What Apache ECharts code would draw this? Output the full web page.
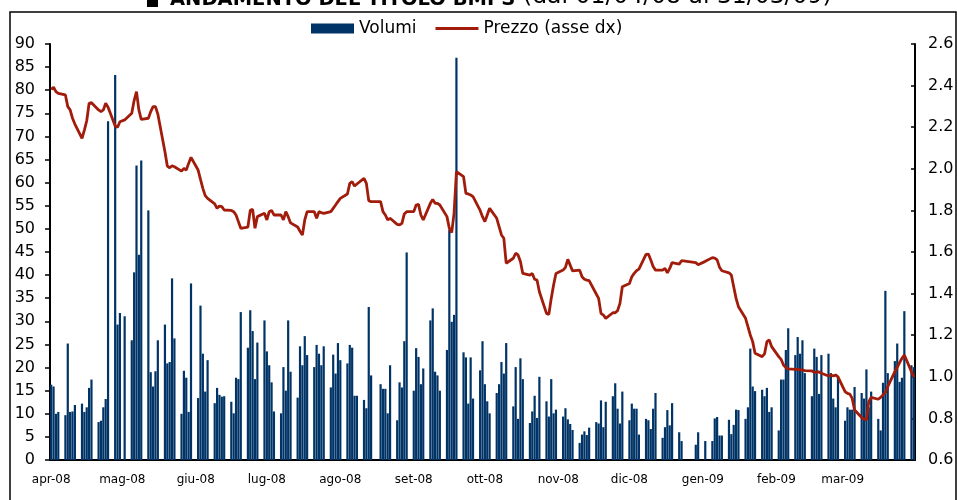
<!DOCTYPE html>
<html><head><meta charset="utf-8">
<script src="https://cdn.jsdelivr.net/npm/echarts@6/dist/echarts.min.js"></script>
<style>html,body{margin:0;padding:0;background:#fff}#c{width:957px;height:500px}</style>
</head><body><div id="c"></div>
<script>
// Month tick labels (x axis)
const monthLabels = ['apr-08','mag-08','giu-08','lug-08','ago-08','set-08','ott-08','nov-08','dic-08','gen-09','feb-09','mar-09'];

// Daily volumes, one value per weekday (Mon-Fri) of each month; null = market closed
const volApr08 = [16.3,15.9,10.0,10.4, 9.7,25.2,10.4,10.5,11.9, 12.2,10.4,11.4,15.6,17.4, 8.2,8.5,11.4,13.2,73.3, 83.3,29.3,31.8];
const volMay08 = [null,31.1, 25.9,40.6,63.7,44.4,64.8, 54.0,19.0,15.9,19.2,25.9, 29.3,20.9,21.2,39.3,26.3, 10.0,19.3,17.8,10.4,38.2];
const volJun08 = [13.4,33.4,23.0,14.8,21.6, 12.3,15.6,14.1,13.7,13.8, 12.6,10.1,17.8,17.5,32.0, 24.3,32.4,27.9,17.5,25.4, 30.2];
const volJul08 = [23.5,20.5,16.8,10.5, 10.1,20.1,15.0,30.2,19.1, 13.5,24.6,20.5,26.8,22.7, 20.1,24.9,23.0,20.5,24.6, 15.7,22.8,18.7,25.3];
const volAug08 = [21.6, 20.9,24.9,24.3,13.9,13.9, 13.0,11.2,33.1,18.3,null, 16.4,15.4,15.4,10.1,20.5, 8.6,16.8,15.7,25.7,44.9];
const volSep08 = [15.0,24.2,22.3,16.4,19.8, 30.2,32.8,19.1,18.3,15.0, 23.8,49.8,29.9,31.4,87.0, 23.3,22.2,12.2,22.2,13.3, 19.4,25.7];
const volOct08 = [16.4,12.7,10.1, 14.5,16.4,21.2,18.7,25.3, 11.6,20.1,8.9,22.0,17.5, 8.0,10.5,13.9,9.1,18.0, 12.7,9.4,17.5,10.1,10.9];
const volNov08 = [9.4,11.2,8.8,7.8,6.5, 3.7,5.5,6.2,5.4,7.0, 8.2,7.9,12.9,7.1,12.6, 13.8,16.6,11.1,7.9,14.8];
const volDec08 = [8.6,12.2,11.1,11.1,5.5, 8.9,8.6,6.7,11.1,14.5, 4.8,7.1,10.8,7.5,12.3, 6.0,4.1,null,null,null, 3.3,6.0,null];
const volJan09 = [null,4.1, 4.1,9.0,9.3,5.3,5.3, 8.7,5.6,7.6,10.9,10.8, 8.9,11.4,24.1,15.9,14.9, 15.2,13.8,15.6,10.4,11.4];
const volFeb09 = [6.4,17.4,17.4,23.8,28.5, 22.7,26.6,23.0,25.9,18.8, 13.8,24.1,22.3,14.3,22.7, 23.0,18.8,13.3,11.4,18.1];
const volMar09 = [8.5,11.4,10.9,10.9,15.8, 14.5,13.3,19.6,11.4,14.8, 8.9,6.4,16.7,36.6,18.8, 21.4,25.2,16.9,17.8,32.2, 20.5,20.1];

// Daily closing price (right axis), same weekday layout
const prcApr08 = [2.382,2.392,2.371,2.363, 2.355,2.299,2.283,2.243,2.215, 2.146,2.186,2.231,2.315,2.318, 2.283,2.275,2.283,2.315,2.296, 2.206,2.200,2.226];
const prcMay08 = [null,2.235, 2.267,2.328,2.371,2.283,2.238, 2.243,2.275,2.299,2.299,2.263, 2.082,2.013,2.005,2.015,2.010, 1.989,2.002,1.994,2.026,2.055];
const prcJun08 = [1.994,1.949,1.906,1.871,1.858, 1.831,1.810,1.821,1.818,1.802, 1.800,1.794,1.778,1.746,1.714, 1.720,1.800,1.805,1.714,1.770, 1.786];
const prcJul08 = [1.754,1.794,1.800,1.778, 1.778,1.754,1.794,1.770,1.740, 1.720,1.700,1.682,1.754,1.794, 1.794,1.762,1.794,1.789,1.786, 1.794,1.810,1.826,1.842];
const prcAug08 = [1.858, 1.879,1.930,1.938,1.917,1.927, 1.954,1.930,1.847,1.842,null, 1.842,1.794,1.778,1.754,1.762, 1.733,1.730,1.738,1.783,1.794];
const prcSep08 = [1.794,1.826,1.829,1.778,1.754, 1.834,1.853,1.834,1.834,1.826, 1.770,1.714,1.693,1.786,1.986, 1.962,1.882,1.879,1.874,1.866, 1.800,1.770];
const prcOct08 = [1.746,1.778,1.810, 1.762,1.722,1.682,1.666,1.546, 1.570,1.594,1.586,1.554,1.497, 1.489,1.497,1.469,1.465,1.409, 1.305,1.300,1.377,1.441,1.497];
const prcNov08 = [1.513,1.526,1.565,1.537,1.509, 1.513,1.481,1.469,1.465,1.462, 1.398,1.377,1.305,1.297,1.281, 1.308,1.308,1.318,1.353,1.433];
const prcDec08 = [1.449,1.481,1.497,1.510,1.518, 1.589,1.590,1.562,1.530,1.513, 1.513,1.521,1.500,1.521,1.549, 1.542,1.558,null,null,null, 1.549,1.539,null];
const prcJan09 = [null,1.555, 1.573,1.571,1.562,1.527,1.510, 1.500,1.489,1.433,1.377,1.337, 1.281,1.241,1.201,1.169,1.113, 1.097,1.110,1.169,1.177,1.145];
const prcFeb09 = [1.097,1.084,1.057,1.045,1.038, 1.036,1.036,1.033,1.033,1.030, 1.028,1.021,1.023,1.023,1.017, 1.004,1.009,1.004,1.009,1.000];
const prcMar09 = [0.929,0.920,0.917,0.896,0.840, 0.804,0.797,0.792,0.880,0.901, 0.892,0.901,0.913,0.924,0.953, 1.025,1.045,1.068,1.089,1.105, 1.025,1.000];

const volByMonth = [volApr08,volMay08,volJun08,volJul08,volAug08,volSep08,volOct08,volNov08,volDec08,volJan09,volFeb09,volMar09];
const prcByMonth = [prcApr08,prcMay08,prcJun08,prcJul08,prcAug08,prcSep08,prcOct08,prcNov08,prcDec08,prcJan09,prcFeb09,prcMar09];

// Build calendar-day table (weekends empty, as on a date axis)
const days = [], vol = [], price = [], monthOf = [];
const cursor = new Array(12).fill(0);
for (let d = 0; d < 365; d++) {
  const dt = new Date(2008, 3, 1 + d);
  const m = (dt.getFullYear() - 2008) * 12 + dt.getMonth() - 3;
  days.push(dt.getFullYear() + '-' + String(dt.getMonth() + 1).padStart(2, '0') + '-' + String(dt.getDate()).padStart(2, '0'));
  monthOf.push(m);
  const wd = dt.getDay();
  if (wd === 0 || wd === 6) { vol.push(null); price.push(null); }
  else { const i = cursor[m]++; vol.push(volByMonth[m][i]); price.push(prcByMonth[m][i]); }
}

const FONT = '"DejaVu Sans", Verdana, sans-serif';
const RED = '#a11c0b';
const chart = echarts.init(document.getElementById('c'), null, {renderer: 'canvas'});
chart.setOption({
  animation: false,
  backgroundColor: '#fff',
  textStyle: {fontFamily: FONT, color: '#000'},
  graphic: [
    {type: 'rect', silent: true, shape: {x: 10, y: 12, width: 946, height: 500}, style: {fill: 'none', stroke: '#000', lineWidth: 1.5}},
    {type: 'rect', silent: true, shape: {x: 147, y: -4, width: 11, height: 11}, style: {fill: '#000'}},
    {type: 'text', silent: true, x: 170, y: -10, style: {text: 'ANDAMENTO DEL TITOLO BMPS', font: 'bold 19.5px ' + FONT, fill: '#000'}},
    {type: 'text', silent: true, x: 523, y: -15, style: {text: '(dal 01/04/08 al 31/03/09)', font: '23.5px ' + FONT, fill: '#000'}}
  ],
  legend: {
    left: 306, top: 15, itemWidth: 43, itemHeight: 10, itemGap: 19,
    textStyle: {fontSize: 17, fontFamily: FONT, color: '#000'},
    data: [
      {name: 'Volumi', icon: 'rect'},
      {name: 'Prezzo (asse dx)', icon: 'path://M0,0L43,0L43,3L0,3Z', itemStyle: {color: RED}}
    ]
  },
  grid: {left: 50, right: 42, top: 44, bottom: 40, containLabel: false},
  xAxis: {
    type: 'category', data: days, boundaryGap: true,
    axisLine: {lineStyle: {color: '#000', width: 2}},
    axisTick: {show: false},
    axisLabel: {
      fontSize: 12, fontFamily: FONT, color: '#000', margin: 14,
      interval: (idx, val) => val.slice(8) === '01',
      formatter: (val, idx) => monthLabels[monthOf[idx]]
    },
    splitLine: {show: false}
  },
  yAxis: [
    {type: 'value', min: 0, max: 90, interval: 5, position: 'left',
     axisLine: {show: true, lineStyle: {color: '#000', width: 2}},
     axisTick: {show: true, length: 5, lineStyle: {color: '#000', width: 1.5}},
     axisLabel: {fontSize: 16, fontFamily: FONT, color: '#000', margin: 15},
     splitLine: {show: false}},
    {type: 'value', min: 0.6, max: 2.6, interval: 0.2, position: 'right',
     axisLine: {show: true, lineStyle: {color: '#000', width: 2}},
     axisTick: {show: true, inside: true, length: 4, lineStyle: {color: '#000', width: 1.5}},
     axisLabel: {fontSize: 16, fontFamily: FONT, color: '#000', margin: 13, formatter: v => v.toFixed(1)},
     splitLine: {show: false}}
  ],
  series: [
    {name: 'Volumi', type: 'bar', data: vol, yAxisIndex: 0, barWidth: 2.2,
     itemStyle: {color: '#003366'}, z: 2},
    {name: 'Prezzo (asse dx)', type: 'line', data: price, yAxisIndex: 1, connectNulls: true,
     showSymbol: false, symbol: 'none', lineStyle: {color: RED, width: 2.8}, itemStyle: {color: RED}, z: 3}
  ]
});
</script>
</body></html>
